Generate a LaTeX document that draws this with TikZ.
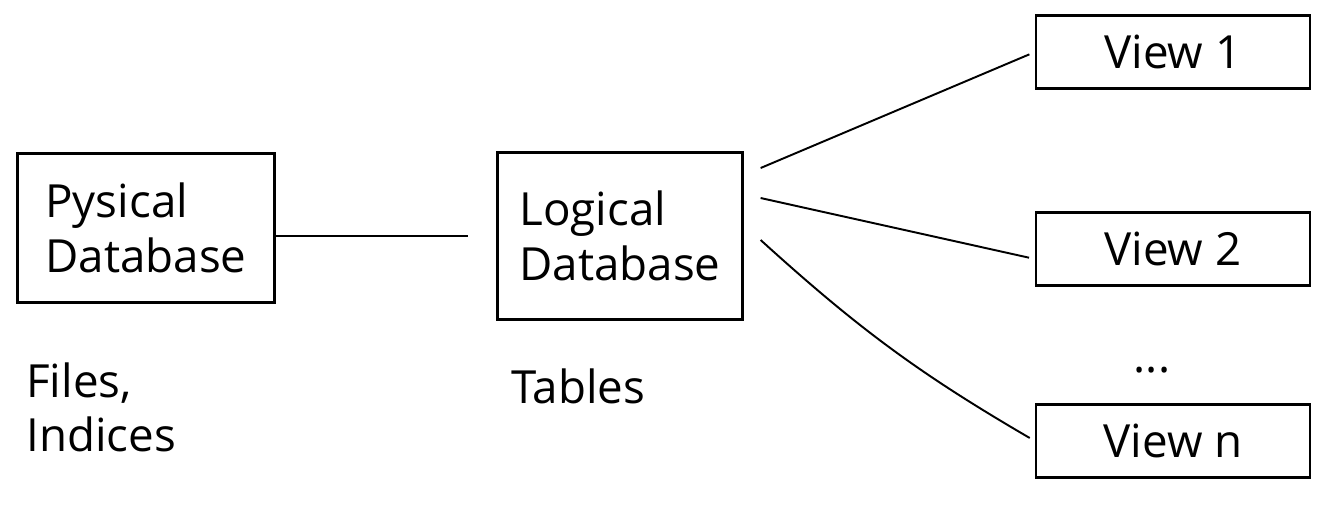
\documentclass[tikz,border=0pt]{standalone}
\usepackage{fontspec}
\setmainfont{Open Sans}
\usepackage{tikz}

\tikzset{
    dbbox/.style={draw, line width=1.3pt, align=left, inner sep=0pt,
        font=\fontsize{26}{31}\selectfont},
    viewbox/.style={draw, line width=1.3pt, minimum width=5.48cm, minimum height=1.46cm,
        inner sep=0pt, font=\fontsize{26}{31}\selectfont},
    note/.style={align=left, inner sep=0pt, font=\fontsize{26}{31}\selectfont},
    link/.style={line width=1.1pt}
}

\begin{document}
\begin{tikzpicture}[x=0.02cm,y=-0.02cm]
            \useasboundingbox (0,0) rectangle (1324,504);

            \node[dbbox, minimum width=5.14cm, minimum height=2.98cm] (phys) at (146,228) {Pysical\\Database};
            \node[dbbox, minimum width=4.9cm, minimum height=3.34cm] (logic) at (620,236) {Logical\\Database};

            \node[viewbox] (view1) at (1173,52) {View 1};
            \node[viewbox] (view2) at (1173,249) {View 2};
            \node[viewbox] (viewn) at (1173,441) {View n};

            \node[note, anchor=north west] (files) at (26,362) {Files,\\Indices};
            \node[note] (tables) at (578,386) {Tables};
            \node[note] (dots) at (1152,370) {...};

            \coordinate (s1) at ([shift={(0.34cm,1.36cm)}]logic.east);
            \coordinate (s2) at ([shift={(0.34cm,0.76cm)}]logic.east);
            \coordinate (s3) at ([shift={(0.34cm,-0.08cm)}]logic.east);

            \draw[link, shorten >=0.56cm] (phys.east |- logic.west) -- (logic.west);
            \draw[link, shorten >=0.12cm] (s1) -- (view1.west);
            \draw[link, shorten >=0.12cm] (s2) -- ([yshift=-0.2cm]view2.west);
            \draw[link, shorten >=0.12cm] (s3) to[bend right=6] (viewn.west);
        \end{tikzpicture}
\end{document}
